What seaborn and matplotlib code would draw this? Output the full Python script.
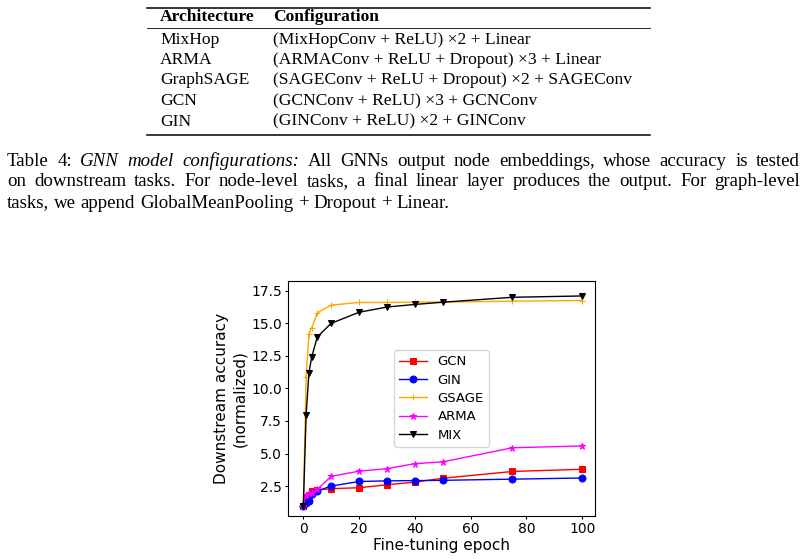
import matplotlib
matplotlib.use("Agg")
import matplotlib.pyplot as plt
from matplotlib.lines import Line2D
import seaborn as sns

# --- chart data ---
epochs = [0, 1, 2, 3, 5, 10, 20, 30, 40, 50, 75, 100]
gcn = [1.0, 1.55, 1.8, 2.1, 2.2, 2.3, 2.37, 2.6, 2.8, 3.1, 3.62, 3.79]
gin = [1.0, 1.2, 1.33, 1.9, 2.12, 2.5, 2.85, 2.9, 2.92, 2.94, 3.03, 3.12]
gsage = [1.0, 10.88, 14.2, 14.65, 15.8, 16.4, 16.6, 16.6, 16.63, 16.63, 16.7, 16.75]
arma = [1.0, 1.8, 1.95, 2.0, 2.25, 3.25, 3.64, 3.84, 4.22, 4.36, 5.44, 5.58]
mix = [1.0, 7.95, 11.2, 12.4, 13.95, 15.0, 15.85, 16.25, 16.45, 16.62, 17.0, 17.1]

series_names = ["GCN", "GIN", "GSAGE", "ARMA", "MIX"]
series_colors = ["red", "blue", "orange", "magenta", "black"]
series_markers = ["s", "o", "+", "*", "v"]

# --- table data ---
table_header = ["Architecture", "Configuration"]
arch = ["MixHop", "ARMA", "GraphSAGE", "GCN", "GIN"]
config = [
    "(MixHopConv + ReLU) \u00d72 + Linear",
    "(ARMAConv + ReLU + Dropout) \u00d73 + Linear",
    "(SAGEConv + ReLU + Dropout) \u00d72 + SAGEConv",
    "(GCNConv + ReLU) \u00d73 + GCNConv",
    "(GINConv + ReLU) \u00d72 + GINConv",
]

caption_lines = [
    "Table 4: GNN model configurations: All GNNs output node embeddings, whose accuracy is tested",
    "on downstream tasks. For node-level tasks, a final linear layer produces the output. For graph-level",
    "tasks, we append GlobalMeanPooling + Dropout + Linear.",
]
italic_words = ["GNN", "model", "configurations:"]

W, H = 805, 559
serif = "Liberation Serif"
fs = 12.6
cap_fs = 13.6

fig = plt.figure(figsize=(W / 100, H / 100), dpi=100)


def fx(px):
    return px / W


def fy(py):
    return 1 - py / H


# table rules
for y, lw in [(7.5, 1.1), (28, 0.6), (134.5, 1.1)]:
    fig.add_artist(Line2D([fx(147), fx(650)], [fy(y), fy(y)], color="black", lw=lw))

fig.text(fx(160), fy(17), table_header[0], family=serif, weight="bold", fontsize=fs, va="center")
fig.text(fx(273), fy(17), table_header[1], family=serif, weight="bold", fontsize=fs, va="center")
for i, (a, c) in enumerate(zip(arch, config)):
    y = 39.5 + i * 20.5
    fig.text(fx(160), fy(y), a, family=serif, fontsize=fs, va="center")
    fig.text(fx(273), fy(y), c, family=serif, fontsize=fs, va="center")

# caption, justified word by word
renderer = fig.canvas.get_renderer()
x_left, x_right = 7, 800
space = 0.25 * cap_fs * 100 / 72

for li, line in enumerate(caption_lines):
    y = 161 + li * 21
    texts = []
    for w in line.split(" "):
        style = "italic" if (li == 0 and w in italic_words) else "normal"
        texts.append(fig.text(0, fy(y), w, family=serif, fontsize=cap_fs, style=style, va="center"))
    widths = [t.get_window_extent(renderer).width for t in texts]
    if li < len(caption_lines) - 1:
        gap = (x_right - x_left - sum(widths)) / (len(texts) - 1)
    else:
        gap = space
    x = x_left
    for t, w in zip(texts, widths):
        t.set_x(fx(x))
        x += w + gap

# --- the chart ---
ax = fig.add_axes([fx(288), fy(516), (595 - 288) / W, (516 - 281) / H])
all_series = [gcn, gin, gsage, arma, mix]
for vals, name, col, mk in zip(all_series, series_names, series_colors, series_markers):
    sns.lineplot(x=epochs, y=vals, ax=ax, color=col, marker=mk, label=name,
                 markersize=5, linewidth=1.0, markeredgecolor=col, markerfacecolor=col)

ax.set_xlim(-5.5, 104.6)
ax.set_ylim(0.2, 18.25)
ax.set_yticks([2.5, 5.0, 7.5, 10.0, 12.5, 15.0, 17.5])
ax.set_xticks([0, 20, 40, 60, 80, 100])
ax.tick_params(labelsize=10, length=2.5, pad=2)
ax.set_xlabel("Fine-tuning epoch", fontsize=11, labelpad=1)
ax.set_ylabel("Downstream accuracy\n(normalized)", fontsize=11, labelpad=3)
ax.legend(loc="center", fontsize=9.5, labelspacing=0.4, handlelength=2.1, borderpad=0.4)

fig.savefig("out.png", dpi=100)
